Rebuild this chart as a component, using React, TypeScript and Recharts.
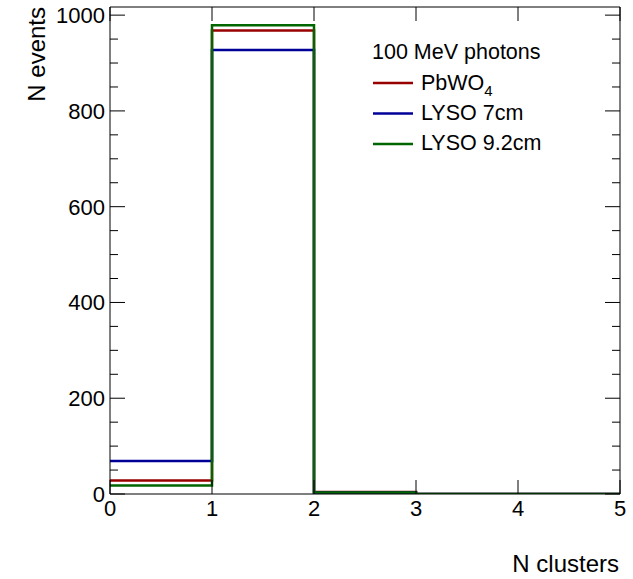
import { LineChart, Line, XAxis, YAxis, Legend } from 'recharts'

// bin edges (N clusters) and bin contents per crystal setup
const binEdges = [0, 1, 2, 3, 4, 5]
const pbwo4 = [28, 968, 4, 0, 0]
const lyso7 = [69, 927, 3, 0, 0]
const lyso92 = [18, 979, 3, 0, 0]

const xTicks = [0, 1, 2, 3, 4, 5]
const yTicks = [0, 50, 100, 150, 200, 250, 300, 350, 400, 450, 500, 550, 600, 650, 700, 750, 800, 850, 900, 950, 1000]
const yMax = 1017

const seriesKeys = ['pbwo4', 'lyso7', 'lyso92']
const seriesNames = ['PbWO', 'LYSO 7cm', 'LYSO 9.2cm']
const seriesSubs = ['4', '', '']
const seriesColors = ['#990000', '#000099', '#006600']
const legendTitle = '100 MeV photons'

const FONT = '"Liberation Sans", Arial, Helvetica, sans-serif'

// step histogram: last edge repeats the last bin so the final bin gets drawn
const chartData = binEdges.map((x, i) => {
  const b = Math.min(i, pbwo4.length - 1)
  return { x, pbwo4: pbwo4[b], lyso7: lyso7[b], lyso92: lyso92[b] }
})

const isMajor = (v: number) => v % 200 === 0

function BottomTick(props: any) {
  const { x, y, payload } = props
  return (
    <g>
      <line x1={x} y1={y} x2={x} y2={y - 14} stroke="#000" />
      <text x={x} y={y + 22} textAnchor="middle" fontSize={22} fontFamily={FONT} fill="#000">
        {payload.value}
      </text>
    </g>
  )
}

function TopTick(props: any) {
  const { x, y } = props
  return <line x1={x} y1={y} x2={x} y2={y + 14} stroke="#000" />
}

function LeftTick(props: any) {
  const { x, y, payload } = props
  const major = isMajor(payload.value)
  return (
    <g>
      <line x1={x} y1={y} x2={x + (major ? 15 : 8)} y2={y} stroke="#000" />
      {major && (
        <text x={x - 5} y={y + 8} textAnchor="end" fontSize={22} fontFamily={FONT} fill="#000">
          {payload.value}
        </text>
      )}
    </g>
  )
}

function RightTick(props: any) {
  const { x, y, payload } = props
  const major = isMajor(payload.value)
  return <line x1={x} y1={y} x2={x - (major ? 15 : 8)} y2={y} stroke="#000" />
}

function HistLegend() {
  return (
    <svg width={230} height={130} style={{ fontFamily: FONT }}>
      <text x={12} y={29} fontSize={21.5} fill="#000">{legendTitle}</text>
      {seriesNames.map((name, i) => (
        <g key={name}>
          <line x1={13} x2={53} y1={53 + i * 30.5} y2={53 + i * 30.5} stroke={seriesColors[i]} strokeWidth={2.5} />
          <text x={61} y={60 + i * 30} fontSize={21.5} fill="#000">
            {name}
            {seriesSubs[i] && <tspan fontSize={15} dy={6}>{seriesSubs[i]}</tspan>}
          </text>
        </g>
      ))}
    </svg>
  )
}

export default function App() {
  return (
    <div style={{ position: 'absolute', left: 0, top: 0, width: 633, height: 579, background: '#fff' }}>
      <LineChart width={633} height={579} data={chartData} margin={{ top: 6, right: 12, bottom: 0, left: 0 }}>
        <XAxis
          xAxisId="b"
          dataKey="x"
          type="number"
          domain={[0, 5]}
          ticks={xTicks}
          interval={0}
          allowDataOverflow
          height={85}
          tickSize={0}
          tickMargin={0}
          tickLine={false}
          axisLine={{ stroke: '#000' }}
          tick={BottomTick}
          label={{
            content: () => (
              <text x={619} y={572} textAnchor="end" fontSize={24} fontFamily={FONT} fill="#000">
                N clusters
              </text>
            ),
          }}
        />
        <XAxis
          xAxisId="t"
          orientation="top"
          dataKey="x"
          type="number"
          domain={[0, 5]}
          ticks={xTicks}
          interval={0}
          allowDataOverflow
          height={1}
          tickSize={0}
          tickMargin={0}
          tickLine={false}
          axisLine={{ stroke: '#000' }}
          tick={TopTick}
        />
        <YAxis
          yAxisId="l"
          type="number"
          domain={[0, yMax]}
          ticks={yTicks}
          interval={0}
          allowDataOverflow
          width={110}
          tickSize={0}
          tickMargin={0}
          tickLine={false}
          axisLine={{ stroke: '#000' }}
          tick={LeftTick}
          label={{
            content: () => (
              <text
                x={45}
                y={7}
                transform="rotate(-90 45 7)"
                textAnchor="end"
                fontSize={24}
                fontFamily={FONT}
                fill="#000"
              >
                N events
              </text>
            ),
          }}
        />
        <YAxis
          yAxisId="r"
          orientation="right"
          type="number"
          domain={[0, yMax]}
          ticks={yTicks}
          interval={0}
          allowDataOverflow
          width={1}
          tickSize={0}
          tickMargin={0}
          tickLine={false}
          axisLine={{ stroke: '#000' }}
          tick={RightTick}
        />
        <Legend
          layout="horizontal"
          verticalAlign="middle"
          align="center"
          content={() => <HistLegend />}
          wrapperStyle={{ left: 360, top: 30, width: 230, height: 130 }}
        />
        {seriesKeys.map((key, i) => (
          <Line
            key={key}
            xAxisId="b"
            yAxisId="l"
            type="stepAfter"
            dataKey={key}
            stroke={seriesColors[i]}
            strokeWidth={2.5}
            dot={false}
            activeDot={false}
            isAnimationActive={false}
          />
        ))}
      </LineChart>
    </div>
  )
}
